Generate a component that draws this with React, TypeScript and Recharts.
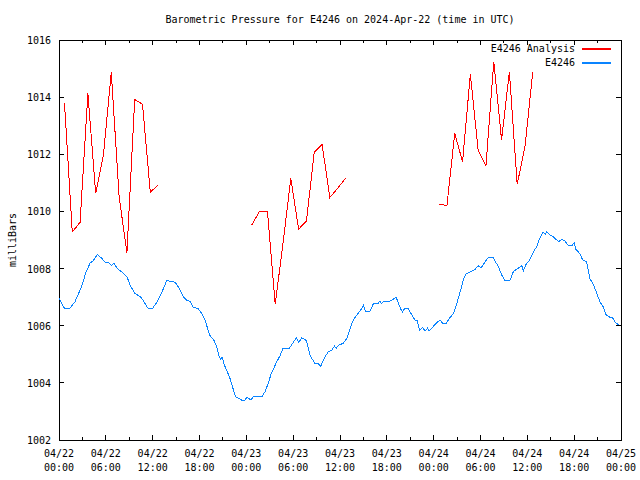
import { LineChart, Line, XAxis, YAxis, ReferenceArea, Legend } from "recharts";

const FONT = "'DejaVu Sans Mono', 'Liberation Mono', monospace";
const PLOT = { left: 59, right: 621, top: 40, bottom: 440 };
const ANALYSIS_COLOR = "#ff0000";
const STATION_COLOR = "#0a84ff";

// x axis: hours since 2024-04-22 00:00 UTC
const hourTicks = [0, 3, 6, 9, 12, 15, 18, 21, 24, 27, 30, 33, 36, 39, 42, 45, 48, 51, 54, 57, 60, 63, 66, 69, 72];
const dayLabels = ["04/22", "04/22", "04/22", "04/22", "04/23", "04/23", "04/23", "04/23", "04/24", "04/24", "04/24", "04/24", "04/25"];
const timeLabels = ["00:00", "06:00", "12:00", "18:00", "00:00", "06:00", "12:00", "18:00", "00:00", "06:00", "12:00", "18:00", "00:00"];
const pressureTicks = [1002, 1004, 1006, 1008, 1010, 1012, 1014, 1016];
const seriesNames = ["E4246 Analysis", "E4246"];
const seriesColors = [ANALYSIS_COLOR, STATION_COLOR];

// E4246 Analysis (hourly, three runs)
const analysisStartHours = [0.7, 24.7, 48.7];
const analysisDay1 = [1013.81, 1009.28, 1009.62, 1014.13, 1010.63, 1012.0, 1014.87, 1010.52, 1008.56, 1013.92, 1013.75, 1010.67, 1010.93];
const analysisDay2 = [1009.53, 1010.01, 1010.01, 1006.76, 1008.88, 1011.16, 1009.38, 1009.66, 1012.07, 1012.35, 1010.49, 1010.81, 1011.16];
const analysisDay3 = [1010.25, 1010.21, 1012.73, 1011.74, 1014.8, 1012.15, 1011.6, 1015.24, 1012.5, 1014.89, 1010.95, 1012.27, 1014.89];

// E4246 station observations
const stationHours = [
  0, 0.7, 1.4, 2.05, 2.9, 3.4, 4.0, 4.4, 4.9, 5.5, 5.9, 6.4, 6.75, 7.05, 7.4, 8.0, 8.7, 9.1, 9.7, 10.4,
  10.8, 11.4, 12.0, 12.5, 12.9, 13.4, 13.8, 14.9, 15.4, 15.9, 16.4, 16.8, 17.2, 17.8, 18.3, 18.7, 19.1, 19.4, 19.8, 20.2,
  20.5, 20.7, 20.9, 21.2, 21.6, 21.9, 22.2, 22.6, 23.1, 23.4, 23.8, 24.1, 24.6, 24.9, 26.0, 26.4, 26.8, 27.2, 27.9, 28.3,
  28.7, 29.5, 30.0, 30.4, 30.7, 31.1, 31.7, 32.2, 32.8, 33.2, 33.5, 34.1, 34.5, 34.9, 35.3, 35.5, 35.8, 36.4, 36.9, 37.3,
  37.7, 38.3, 38.8, 39.0, 39.3, 39.8, 40.3, 40.9, 41.1, 41.3, 41.6, 42.4, 43.2, 43.5, 43.8, 44.0, 44.3, 44.7, 45.2, 45.6,
  45.9, 46.2, 46.6, 46.9, 47.2, 47.4, 48.2, 48.8, 49.2, 49.6, 50.1, 50.5, 50.9, 51.4, 51.8, 52.1, 52.7, 53.3, 53.7, 54.1,
  54.6, 55.0, 55.6, 55.9, 56.3, 56.7, 57.1, 57.8, 58.2, 58.6, 59.0, 59.3, 59.5, 59.8, 60.3, 60.8, 61.2, 61.6, 62.0, 62.3,
  62.5, 62.9, 63.3, 64.0, 64.4, 64.8, 65.2, 65.7, 66.0, 66.2, 66.7, 67.1, 67.6, 68.0, 68.5, 68.9, 69.3, 69.7, 70.1, 70.6,
  70.9, 71.3, 71.8,
];
const stationValues = [
  1006.95, 1006.61, 1006.61, 1006.84, 1007.37, 1007.83, 1008.2, 1008.28, 1008.49, 1008.36, 1008.22, 1008.2, 1008.11, 1008.2, 1008.02, 1007.89, 1007.72, 1007.43, 1007.13, 1007.02,
  1006.88, 1006.61, 1006.61, 1006.81, 1007.02, 1007.31, 1007.58, 1007.52, 1007.31, 1007.02, 1006.88, 1006.85, 1006.64, 1006.61, 1006.43, 1006.2, 1005.85, 1005.62, 1005.52, 1005.27,
  1004.94, 1004.82, 1004.89, 1004.62, 1004.36, 1004.16, 1003.89, 1003.52, 1003.45, 1003.4, 1003.4, 1003.49, 1003.4, 1003.52, 1003.52, 1003.69, 1003.98, 1004.33, 1004.74, 1004.94,
  1005.21, 1005.21, 1005.41, 1005.58, 1005.41, 1005.58, 1005.48, 1004.94, 1004.68, 1004.68, 1004.57, 1004.92, 1005.09, 1005.13, 1005.29, 1005.21, 1005.32, 1005.38, 1005.56, 1005.91,
  1006.2, 1006.43, 1006.61, 1006.72, 1006.49, 1006.49, 1006.78, 1006.78, 1006.86, 1006.78, 1006.86, 1006.86, 1006.99, 1006.78, 1006.57, 1006.49, 1006.61, 1006.61, 1006.38, 1006.2,
  1006.18, 1005.85, 1005.93, 1005.81, 1005.91, 1005.81, 1006.05, 1006.2, 1006.08, 1006.08, 1006.29, 1006.41, 1006.72, 1007.19, 1007.6, 1007.81, 1007.89, 1007.97, 1008.1, 1008.03,
  1008.24, 1008.39, 1008.39, 1008.24, 1008.07, 1007.78, 1007.6, 1007.6, 1007.89, 1007.97, 1008.04, 1008.1, 1007.92, 1008.13, 1008.3, 1008.59, 1008.77, 1009.06, 1009.27, 1009.21,
  1009.29, 1009.18, 1009.12, 1008.94, 1009.02, 1008.97, 1008.83, 1008.79, 1008.91, 1008.68, 1008.53, 1008.3, 1008.24, 1007.66, 1007.42, 1007.13, 1006.84, 1006.67, 1006.38, 1006.29,
  1006.29, 1006.1, 1006.02,
];

// gaps between runs become null points so the line breaks
const analysisData: { h: number; p: number | null }[] = [];
[analysisDay1, analysisDay2, analysisDay3].forEach((run, r) => {
  run.forEach((p, i) => analysisData.push({ h: analysisStartHours[r] + i, p }));
  analysisData.push({ h: analysisStartHours[r] + run.length, p: null });
});
const stationData = stationHours.map((h, i) => ({ h, p: stationValues[i] }));

const textStyle = { fontFamily: FONT, fontSize: 10, fill: "#000" };

function HourTick({ x, payload }: any) {
  const h = payload.value as number;
  const major = h % 6 === 0;
  const len = major ? 5 : 3;
  const i = h / 6;
  return (
    <g>
      <line x1={x} x2={x} y1={PLOT.bottom} y2={PLOT.bottom - len} stroke="#000" shapeRendering="crispEdges" />
      <line x1={x} x2={x} y1={PLOT.top} y2={PLOT.top + len} stroke="#000" shapeRendering="crispEdges" />
      {major && (
        <text x={x} textAnchor="middle" style={textStyle}>
          <tspan x={x} y={457}>{dayLabels[i]}</tspan>
          <tspan x={x} y={471}>{timeLabels[i]}</tspan>
        </text>
      )}
    </g>
  );
}

function PressureTick({ y, payload }: any) {
  return (
    <g>
      <line x1={PLOT.left} x2={PLOT.left + 5} y1={y} y2={y} stroke="#000" shapeRendering="crispEdges" />
      <line x1={PLOT.right} x2={PLOT.right - 5} y1={y} y2={y} stroke="#000" shapeRendering="crispEdges" />
      <text x={51} y={y + 4} textAnchor="end" style={textStyle}>
        {payload.value}
      </text>
    </g>
  );
}

function LegendBox() {
  return (
    <div style={{ fontFamily: FONT, fontSize: 10, lineHeight: "14px", color: "#000" }}>
      {seriesNames.map((name, i) => (
        <div key={name} style={{ display: "flex", justifyContent: "flex-end", alignItems: "center", height: 14 }}>
          <span>{name}</span>
          <svg width={36} height={14} style={{ display: "block" }}>
            <line x1={7} x2={36} y1={7} y2={7} stroke={seriesColors[i]} strokeWidth={2} />
          </svg>
        </div>
      ))}
    </div>
  );
}

export default function App() {
  return (
    <div style={{ position: "absolute", left: 0, top: 0, width: 640, height: 480, background: "#fff" }}>
      <div
        style={{
          position: "absolute",
          left: 340,
          top: 13,
          transform: "translateX(-50%)",
          whiteSpace: "nowrap",
          fontFamily: FONT,
          fontSize: 10,
          lineHeight: "14px",
          zIndex: 1,
        }}
      >
        Barometric Pressure for E4246 on 2024-Apr-22 (time in UTC)
      </div>
      <LineChart width={640} height={480} margin={{ top: 40, right: 19, left: 9, bottom: 0 }}>
        <XAxis
          dataKey="h"
          type="number"
          domain={[0, 72]}
          ticks={hourTicks}
          interval={0}
          height={40}
          tickLine={false}
          axisLine={false}
          tick={<HourTick />}
          allowDataOverflow
        />
        <YAxis
          type="number"
          domain={[1002, 1016]}
          ticks={pressureTicks}
          interval={0}
          width={50}
          tickLine={false}
          axisLine={false}
          tick={<PressureTick />}
          allowDataOverflow
          label={() => (
            <text x={12} y={240} transform="rotate(-90, 12, 240)" textAnchor="middle" dominantBaseline="central" style={textStyle}>
              milliBars
            </text>
          )}
        />
        <ReferenceArea
          x1={0}
          x2={72}
          y1={1002}
          y2={1016}
          ifOverflow="visible"
          shape={(p: any) => (
            <rect x={p.x} y={p.y} width={p.width} height={p.height} fill="none" stroke="#000" shapeRendering="crispEdges" />
          )}
        />
        <Line
          data={analysisData}
          dataKey="p"
          name={seriesNames[0]}
          stroke={ANALYSIS_COLOR}
          strokeWidth={1}
          dot={false}
          connectNulls={false}
          isAnimationActive={false}
          shapeRendering="crispEdges"
        />
        <Line
          data={stationData}
          dataKey="p"
          name={seriesNames[1]}
          stroke={STATION_COLOR}
          strokeWidth={1}
          dot={false}
          isAnimationActive={false}
          shapeRendering="crispEdges"
        />
        <Legend
          layout="vertical"
          align="center"
          verticalAlign="middle"
          wrapperStyle={{ top: 42, left: 380, width: 231, height: 28 }}
          content={<LegendBox />}
        />
      </LineChart>
    </div>
  );
}
